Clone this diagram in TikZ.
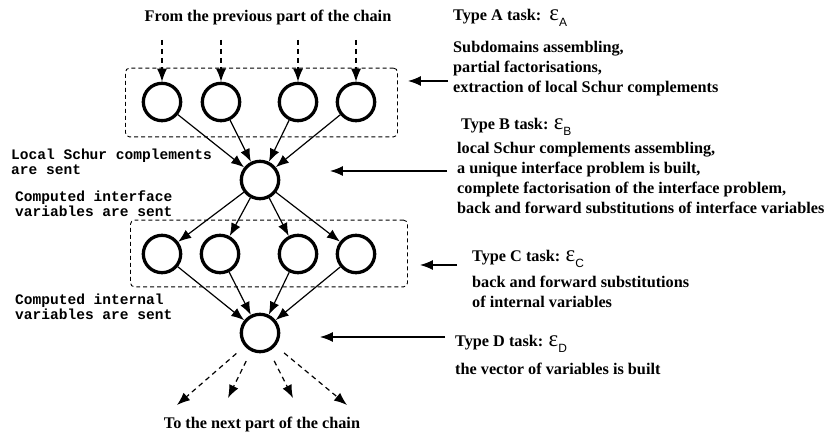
\documentclass[tikz,border=0pt]{standalone}
\usepackage{fontspec}
\setmainfont{Liberation Serif}
\setsansfont{Liberation Sans}
\setmonofont{Liberation Mono}
\usepackage{tikz}
\usetikzlibrary{arrows.meta,positioning,calc}
\newcommand{\taskeps}[1]{{\mdseries\fontsize{23}{23}\selectfont ε}\raisebox{-6pt}{\sffamily\mdseries\fontsize{12}{12}\selectfont #1}}
\tikzset{
  task/.style   = {circle, draw, line width=3.3pt, minimum size=37.5, inner sep=0pt},
  group/.style  = {draw, dashed, dash pattern=on 4pt off 3pt, rounded corners=4pt, line width=0.9pt, inner sep=0pt},
  flow/.style   = {-{Latex[length=13pt,width=10pt]}, line width=1.2pt},
  feed/.style   = {flow, dash pattern=on 5pt off 4pt},
  title/.style  = {font=\bfseries\fontsize{16.3}{20}\selectfont, inner sep=0pt},
  note/.style   = {font=\bfseries\fontsize{16.3}{20}\selectfont, align=left, inner sep=0pt},
  sent/.style   = {font=\ttfamily\bfseries\fontsize{14.6}{15}\selectfont, align=left, inner sep=0pt, anchor=north west},
}

\begin{document}
\begin{tikzpicture}[x=1bp, y=-1bp]
  \useasboundingbox (0,0) rectangle (830,434);
  % titles
  \node[title] (from) at (268,18)  {From the previous part of the chain};
  \node[title] (to)   at (262,425) {To the next part of the chain};
  % task groups
  \node[group, minimum width=273, minimum height=69] (GA) at (261.5,102.5) {};
  \node[group, minimum width=278, minimum height=67] (GC) at (269,253.5) {};
  % tasks
  \node[task] (A1) at (162,102) {};
  \node[task] (A2) at (221,102) {};
  \node[task] (A3) at (298,102) {};
  \node[task] (A4) at (356,102) {};
  \node[task] (B)  at (260,180) {};
  \node[task] (C1) at (162,254) {};
  \node[task] (C2) at (220,254) {};
  \node[task] (C3) at (298,254) {};
  \node[task] (C4) at (356,254) {};
  \node[task] (D)  at (260,333) {};
  % incoming and outgoing chain
  \foreach \i in {1,...,4} \coordinate (in\i) at ($(A\i)+(0,-62)$);
  \coordinate (out1) at (177,405);
  \coordinate (out2) at (228,398);
  \coordinate (out3) at (293,398);
  \coordinate (out4) at (347,405);
  \foreach \i in {1,...,4} {
    \draw[feed] (in\i) -- (A\i);
    \draw[flow] (A\i) -- (B);
    \draw[flow] (B) -- (C\i);
    \draw[flow] (C\i) -- (D);
    \draw[feed, shorten <=11pt] (D) -- (out\i);
  }
  % what is sent
  \node[sent] (schur) at (11,149) {Local Schur complements\\are sent};
  \node[sent] (iface) at (15,191) {Computed interface\\variables are sent};
  \node[sent] (inner) at (15,294) {Computed internal\\variables are sent};
  % task types
  \node[note, anchor=base west] (typeA) at (453,21)  {Type A task:~~\taskeps{A}};
  \node[note, anchor=north west] (descA) at (453,41)
    {Subdomains assembling,\\partial factorisations,\\extraction of local Schur complements};
  \node[note, anchor=base west] (typeB) at (461,130) {Type B task: \taskeps{B}};
  \node[note, anchor=north west] (descB) at (457,142)
    {local Schur complements assembling,\\a unique interface problem is built,\\complete factorisation of the interface problem,\\back and forward substitutions of interface variables};
  \node[note, anchor=base west] (typeC) at (472,262) {Type C task: \taskeps{C}};
  \node[note, anchor=north west] (descC) at (472,276)
    {back and forward substitutions\\of internal variables};
  \node[note, anchor=base west] (typeD) at (455,347) {Type D task: \taskeps{D}};
  \node[note, anchor=north west] (descD) at (455,363) {the vector of variables is built};
  % pointers
  \coordinate (fromA) at (448,81);  \coordinate (toA) at (408,81);
  \coordinate (fromB) at (447,171); \coordinate (toB) at (330,171);
  \coordinate (fromC) at (457,265); \coordinate (toC) at (420,265);
  \coordinate (fromD) at (445,337); \coordinate (toD) at (320,337);
  \foreach \n in {A,B,C,D} \draw[flow] (from\n) -- (to\n);
\end{tikzpicture}
\end{document}
